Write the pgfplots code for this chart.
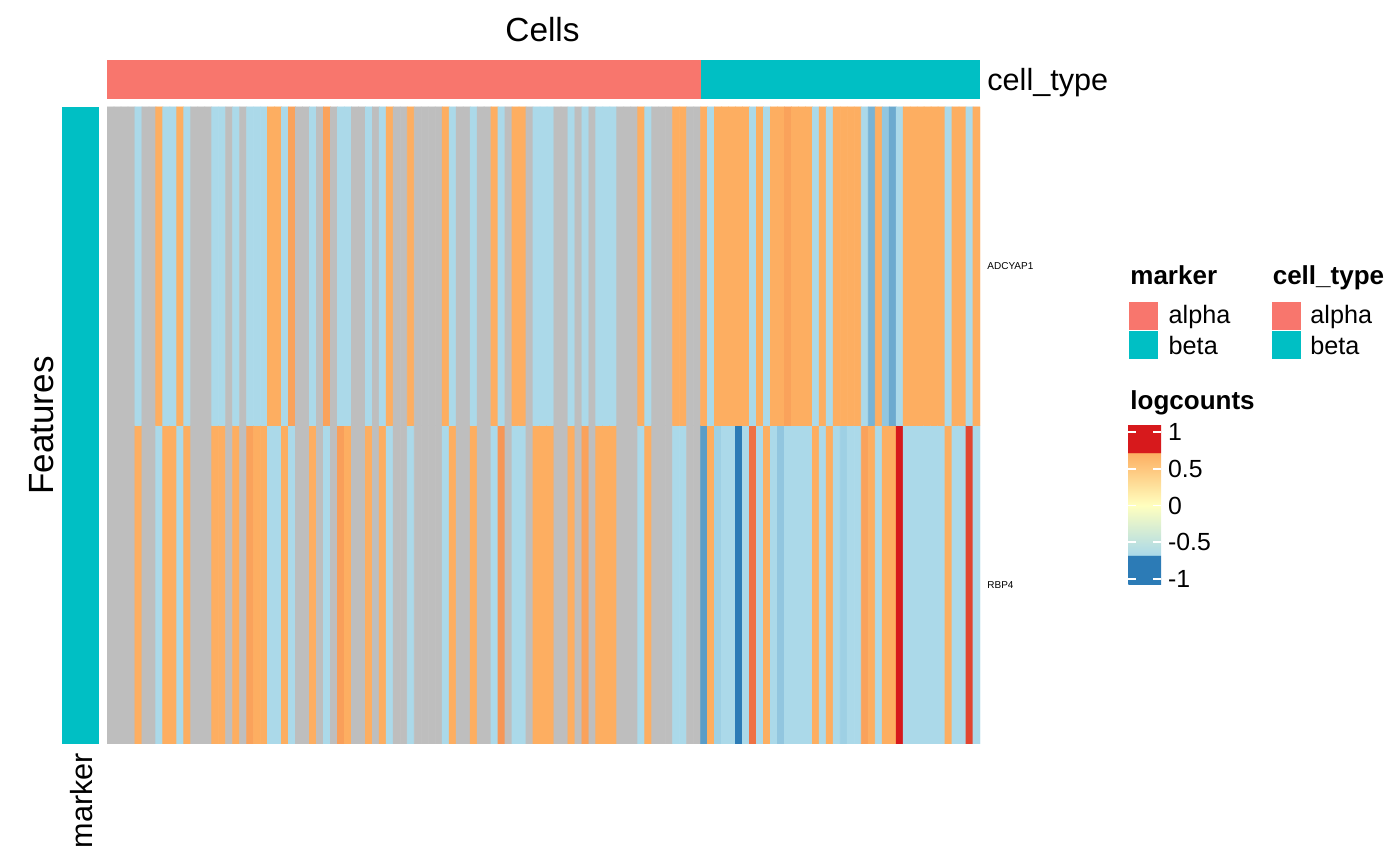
\documentclass[border=0pt]{standalone}
\usepackage{pgfplots}
\pgfplotsset{compat=1.18}
\usepackage{fontspec}
\setmainfont{Liberation Sans}

\definecolor{ctalpha}{HTML}{F8766D}
\definecolor{ctbeta}{HTML}{00BFC4}
\definecolor{nagray}{HTML}{BEBEBE}
\definecolor{rdblue}{HTML}{2C7BB6}
\definecolor{rdlight}{HTML}{ABD9E9}
\definecolor{rdyellow}{HTML}{FFFFBF}
\definecolor{rdorange}{HTML}{FDAE61}
\definecolor{rdred}{HTML}{D7191C}

% heatmap: meta -3 = NA (grey), -1..1 = RdYlBu
\pgfplotsset{
  colormap={heat}{color(0)=(nagray) color(100)=(nagray) color(200)=(rdblue)
    color(250)=(rdlight) color(300)=(rdyellow) color(350)=(rdorange) color(400)=(rdred)},
  colormap={legendmap}{color(0)=(rdblue) color(409)=(rdblue) color(410)=(rdlight)
    color(1082)=(rdyellow) color(1799)=(rdorange) color(1800)=(rdred) color(2191)=(rdred)},
}
\newcommand\fs[1]{\fontsize{#1}{#1}\selectfont}

\begin{document}
\begin{tikzpicture}
\path[use as bounding box] (0,0) rectangle (700pt,433pt);

% main heatmap
\begin{axis}[
  at={(53.5pt,61pt)}, anchor=south west,
  scale only axis, width=436.5pt, height=318.5pt,
  xmin=-0.5, xmax=124.5, ymin=-0.5, ymax=1.5,
  axis line style={draw=none},
  xtick=\empty, ytick={0,1}, yticklabels={RBP4,ADCYAP1},
  yticklabel pos=right, major tick length=0pt,
  yticklabel style={font=\fs{5pt}, anchor=west, inner sep=0pt, xshift=3.5pt},
  colormap name=heat, point meta min=-3, point meta max=1,
]
\addplot[matrix plot*, mesh/cols=125, point meta=explicit] coordinates {
% RBP4
(0,0)[-3] (1,0)[-3] (2,0)[-3] (3,0)[-3] (4,0)[0.5] (5,0)[-3] (6,0)[-3] (7,0)[-0.5] (8,0)[0.5] (9,0)[0.5]
(10,0)[-0.5] (11,0)[0.5] (12,0)[-3] (13,0)[-3] (14,0)[-3] (15,0)[0.5] (16,0)[0.5] (17,0)[-3] (18,0)[0.5] (19,0)[-3]
(20,0)[0.54] (21,0)[0.5] (22,0)[0.5] (23,0)[-0.5] (24,0)[-0.5] (25,0)[0.5] (26,0)[-0.5] (27,0)[-3] (28,0)[-3] (29,0)[0.5]
(30,0)[-3] (31,0)[-0.5] (32,0)[-3] (33,0)[0.55] (34,0)[0.5] (35,0)[-3] (36,0)[-3] (37,0)[0.5] (38,0)[-3] (39,0)[0.5]
(40,0)[-0.5] (41,0)[-3] (42,0)[-3] (43,0)[-0.5] (44,0)[-3] (45,0)[-3] (46,0)[-3] (47,0)[-3] (48,0)[-0.5] (49,0)[0.5]
(50,0)[-3] (51,0)[-3] (52,0)[0.5] (53,0)[-3] (54,0)[-3] (55,0)[-0.5] (56,0)[0.58] (57,0)[-3] (58,0)[-0.5] (59,0)[-0.5]
(60,0)[-3] (61,0)[0.5] (62,0)[0.5] (63,0)[0.5] (64,0)[-3] (65,0)[-3] (66,0)[0.5] (67,0)[-3] (68,0)[0.54] (69,0)[-3]
(70,0)[0.5] (71,0)[0.5] (72,0)[0.5] (73,0)[-3] (74,0)[-3] (75,0)[-3] (76,0)[-0.5] (77,0)[0.5] (78,0)[-3] (79,0)[-3]
(80,0)[-3] (81,0)[-0.5] (82,0)[-0.5] (83,0)[-3] (84,0)[-3] (85,0)[-0.82] (86,0)[0.5] (87,0)[-0.55] (88,0)[-0.5] (89,0)[-0.5]
(90,0)[-1] (91,0)[-0.5] (92,0)[0.7] (93,0)[-0.5] (94,0)[0.5] (95,0)[-0.5] (96,0)[-0.6] (97,0)[-0.5] (98,0)[-0.5] (99,0)[-0.5]
(100,0)[-0.5] (101,0)[0.5] (102,0)[-0.5] (103,0)[0.5] (104,0)[-0.5] (105,0)[-0.55] (106,0)[-0.5] (107,0)[-0.5] (108,0)[0.54] (109,0)[0.5]
(110,0)[-0.5] (111,0)[0.5] (112,0)[0.5] (113,0)[1] (114,0)[-0.5] (115,0)[-0.5] (116,0)[-0.5] (117,0)[-0.5] (118,0)[-0.5] (119,0)[-0.5]
(120,0)[0.5] (121,0)[-0.5] (122,0)[-0.5] (123,0)[0.85] (124,0)[-0.5]
% ADCYAP1
(0,1)[-3] (1,1)[-3] (2,1)[-3] (3,1)[-3] (4,1)[-0.5] (5,1)[-3] (6,1)[-3] (7,1)[0.5] (8,1)[-0.5] (9,1)[-0.5]
(10,1)[0.5] (11,1)[-0.5] (12,1)[-3] (13,1)[-3] (14,1)[-3] (15,1)[-0.5] (16,1)[-0.5] (17,1)[-3] (18,1)[-0.5] (19,1)[-3]
(20,1)[-0.5] (21,1)[-0.5] (22,1)[-0.5] (23,1)[0.5] (24,1)[0.5] (25,1)[-0.5] (26,1)[0.54] (27,1)[-3] (28,1)[-3] (29,1)[-0.5]
(30,1)[-3] (31,1)[0.54] (32,1)[-3] (33,1)[-0.5] (34,1)[-0.5] (35,1)[-3] (36,1)[-3] (37,1)[-0.5] (38,1)[-3] (39,1)[-0.5]
(40,1)[0.5] (41,1)[-3] (42,1)[-3] (43,1)[0.5] (44,1)[-3] (45,1)[-3] (46,1)[-3] (47,1)[-3] (48,1)[0.5] (49,1)[-0.5]
(50,1)[-3] (51,1)[-3] (52,1)[-0.5] (53,1)[-3] (54,1)[-3] (55,1)[0.5] (56,1)[-0.5] (57,1)[-3] (58,1)[0.5] (59,1)[0.5]
(60,1)[-3] (61,1)[-0.5] (62,1)[-0.5] (63,1)[-0.5] (64,1)[-3] (65,1)[-3] (66,1)[-0.5] (67,1)[-3] (68,1)[-0.5] (69,1)[-3]
(70,1)[-0.5] (71,1)[-0.5] (72,1)[-0.5] (73,1)[-3] (74,1)[-3] (75,1)[-3] (76,1)[0.5] (77,1)[-0.5] (78,1)[-3] (79,1)[-3]
(80,1)[-3] (81,1)[0.5] (82,1)[0.5] (83,1)[-3] (84,1)[-3] (85,1)[0.5] (86,1)[-0.5] (87,1)[0.5] (88,1)[0.5] (89,1)[0.5]
(90,1)[0.5] (91,1)[0.5] (92,1)[-0.5] (93,1)[0.5] (94,1)[-0.5] (95,1)[0.5] (96,1)[0.5] (97,1)[0.54] (98,1)[0.5] (99,1)[0.5]
(100,1)[0.5] (101,1)[-0.5] (102,1)[0.5] (103,1)[-0.5] (104,1)[0.5] (105,1)[0.5] (106,1)[0.5] (107,1)[0.5] (108,1)[-0.5] (109,1)[-0.7]
(110,1)[0.5] (111,1)[-0.6] (112,1)[-0.75] (113,1)[-0.5] (114,1)[0.5] (115,1)[0.5] (116,1)[0.5] (117,1)[0.5] (118,1)[0.5] (119,1)[0.5]
(120,1)[-0.5] (121,1)[0.5] (122,1)[0.5] (123,1)[-0.5] (124,1)[0.5]
};
\end{axis}

% cell_type annotation
\begin{axis}[
  at={(53.5pt,383.5pt)}, anchor=south west,
  scale only axis, width=436.5pt, height=19.5pt,
  xmin=-0.5, xmax=124.5, ymin=0, ymax=1, hide axis,
]
\addplot[fill=ctalpha, draw=none] coordinates {(-0.5,0) (84.5,0) (84.5,1) (-0.5,1)} --cycle;
\addplot[fill=ctbeta, draw=none] coordinates {(84.5,0) (124.5,0) (124.5,1) (84.5,1)} --cycle;
\end{axis}

% marker annotation
\begin{axis}[
  at={(31pt,61pt)}, anchor=south west,
  scale only axis, width=18.5pt, height=318.5pt,
  xmin=0, xmax=1, ymin=-0.5, ymax=1.5, hide axis,
]
\addplot[fill=ctbeta, draw=none] coordinates {(0,-0.5) (1,-0.5) (1,1.5) (0,1.5)} --cycle;
\end{axis}

% colour bar for logcounts (dummy axis shifted so the bar lands at x=1128px)
\begin{axis}[
  at={(555.65pt,140.5pt)}, anchor=south west,
  scale only axis, width=16.35pt, height=80.5pt, hide axis,
  colormap name=legendmap, point meta min=-1.082, point meta max=1.109,
  colorbar,
  colorbar/width=16.35pt,
  colorbar style={
    at={(parent axis.south west)}, anchor=south west,
    scale only axis, width=16.35pt, height=80.5pt,
    ytick={-1,-0.5,0,0.5,1}, yticklabels={-1,-0.5,0,0.5,1},
    ytick pos=both, yticklabel pos=right, tick align=inside,
    major tick length=4pt, tick style={white, line width=0.8pt},
    axis line style={draw=none}, axis on top,
    yticklabel style={font=\fs{12.4pt}, anchor=west, inner sep=0pt, xshift=3.3pt},
  },
]
\addplot[draw=none] coordinates {(0,0)};
\end{axis}

% titles
\node[anchor=base, font=\fs{16.7pt}] at (271.25pt,412.15pt) {Cells};
\node[anchor=base west, font=\fs{15.3pt}, inner sep=0pt] at (493.5pt,387.65pt) {cell\_type};
\node[anchor=base, rotate=90, font=\fs{17.5pt}] at (26.5pt,220.25pt) {Features};
\node[anchor=base east, rotate=90, font=\fs{15.3pt}, inner sep=0pt] at (46.35pt,56.65pt) {marker};

% legends
\node[anchor=base west, inner sep=0pt, font=\fs{13pt}\bfseries] at (565pt,290.5pt) {marker};
\node[anchor=base west, inner sep=0pt, font=\fs{13pt}\bfseries] at (636.2pt,290.5pt) {cell\_type};
\fill[ctalpha] (564.65pt,268pt) rectangle (579.15pt,282.15pt);
\fill[ctbeta] (564.65pt,253.35pt) rectangle (579.15pt,267.65pt);
\fill[ctalpha] (636.15pt,268pt) rectangle (650.35pt,282.15pt);
\fill[ctbeta] (636.15pt,253.35pt) rectangle (650.35pt,267.65pt);
\node[anchor=base west, inner sep=0pt, font=\fs{12.6pt}] at (584.15pt,271pt) {alpha};
\node[anchor=base west, inner sep=0pt, font=\fs{12.6pt}] at (584.15pt,255.85pt) {beta};
\node[anchor=base west, inner sep=0pt, font=\fs{12.6pt}] at (655pt,271pt) {alpha};
\node[anchor=base west, inner sep=0pt, font=\fs{12.6pt}] at (655pt,255.85pt) {beta};
\node[anchor=base west, inner sep=0pt, font=\fs{13pt}\bfseries] at (565pt,228.35pt) {logcounts};
\end{tikzpicture}
\end{document}
